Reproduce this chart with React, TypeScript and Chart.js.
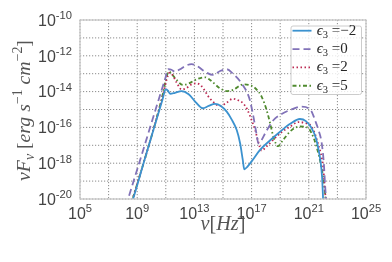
import { useEffect, useRef } from 'react';
import { Chart, registerables } from 'chart.js';

Chart.register(...registerables);

// log10(nu [Hz]) and log10(nu F_nu) for each epsilon_3 curve
const xEpsM2 = [8.5, 8.71, 9.5, 10.3, 10.75, 11.0, 11.15, 11.3, 11.6, 12.1, 12.6, 13.1, 13.58, 14.0, 14.44, 14.85, 15.26, 15.6, 15.96, 16.2, 16.38, 16.49, 16.7, 17.0, 17.59, 18.3, 18.99, 19.7, 20.38, 20.8, 21.2, 21.5, 21.67, 21.82, 21.93, 22.0, 22.05];
const yEpsM2 = [-20.5, -20, -17.85, -15.7, -14.5, -13.87, -13.95, -14.12, -14.08, -13.97, -14.15, -14.6, -14.93, -14.8, -14.69, -14.8, -15.12, -15.55, -16.15, -16.9, -17.8, -18.34, -18.2, -17.9, -17.26, -16.72, -16.24, -15.8, -15.53, -15.65, -16.05, -16.6, -17.2, -17.9, -18.8, -20, -20.8];

const xEps0 = [8.2, 8.36, 9.5, 10.5, 10.95, 11.17, 11.4, 11.64, 12.0, 12.4, 12.81, 13.2, 13.8, 14.32, 14.8, 15.26, 15.7, 16.3, 16.85, 17.15, 17.35, 17.47, 17.7, 18.0, 18.52, 19.1, 19.69, 20.5, 21.2, 21.43, 21.7, 21.9, 22.05, 22.13, 22.2, 22.25];
const yEps0 = [-20.4, -20, -17.05, -14.45, -13.3, -12.75, -12.78, -12.89, -12.75, -12.55, -12.47, -12.58, -12.92, -13.07, -12.85, -12.75, -13.0, -13.54, -14.4, -15.5, -16.4, -16.89, -16.7, -16.25, -15.6, -15.25, -15.03, -14.84, -15.12, -15.59, -16.2, -16.87, -18.0, -19.1, -20, -20.8];

const xEps2 = [8.5, 8.68, 9.5, 10.3, 10.8, 11.05, 11.25, 11.45, 11.76, 12.1, 12.4, 12.8, 13.16, 13.5, 14.1, 14.8, 15.2, 15.7, 16.1, 16.4, 16.7, 17.0, 17.25, 17.45, 17.7, 18.0, 18.99, 19.7, 20.3, 20.7, 21.2, 21.67, 22.0, 22.13, 22.2];
const yEps2 = [-20.5, -20, -17.85, -15.65, -14.2, -13.35, -12.95, -13.05, -13.5, -13.88, -13.82, -13.6, -13.54, -13.7, -14.4, -14.8, -14.65, -14.4, -14.5, -14.65, -15.0, -15.6, -16.15, -16.76, -17.3, -17.1, -16.33, -15.95, -15.7, -15.75, -15.96, -16.98, -18.2, -19.5, -20.2];

const xEps5 = [8.5, 8.68, 9.5, 10.3, 10.8, 11.0, 11.2, 11.45, 11.76, 12.2, 12.6, 13.2, 13.74, 14.1, 14.79, 15.3, 15.72, 16.4, 16.9, 17.24, 17.7, 18.05, 18.29, 18.55, 18.85, 19.2, 19.8, 20.4, 20.9, 21.2, 21.55, 21.9, 22.1, 22.2];
const yEps5 = [-20.5, -20, -17.85, -15.65, -14.1, -13.35, -12.88, -13.05, -13.35, -13.63, -13.55, -13.3, -13.2, -13.35, -13.82, -13.97, -13.9, -13.6, -13.65, -13.8, -14.28, -15.03, -15.75, -16.6, -17.05, -16.7, -16.15, -15.95, -16.0, -16.33, -17.1, -18.3, -19.4, -20.2];

const epsLabels = ['\u2212' + '2', '0', '2', '5'];
const xTickExps = [5, 9, 13, 17, 21, 25];
const yTickExps = [-10, -12, -14, -16, -18, -20];

type Run = { t: string; it?: boolean; s?: number; dy?: number };

const SANS = '"Liberation Sans", Arial, sans-serif';
const SERIF = '"Liberation Serif", "DejaVu Serif", serif';

function fontOf(r: Run, size: number, fam: string) {
  return `${r.it ? 'italic ' : ''}${(size * (r.s ?? 1)).toFixed(2)}px ${fam}`;
}
function measureRuns(ctx: CanvasRenderingContext2D, runs: Run[], size: number, fam: string) {
  let w = 0;
  for (const r of runs) {
    ctx.font = fontOf(r, size, fam);
    w += ctx.measureText(r.t).width;
  }
  return w;
}
function drawRuns(ctx: CanvasRenderingContext2D, runs: Run[], x: number, y: number, size: number, fam: string, align: 'left' | 'center' | 'right') {
  const w = measureRuns(ctx, runs, size, fam);
  let cx = align === 'left' ? x : align === 'center' ? x - w / 2 : x - w;
  ctx.textAlign = 'left';
  ctx.textBaseline = 'alphabetic';
  for (const r of runs) {
    ctx.font = fontOf(r, size, fam);
    ctx.fillText(r.t, cx, y + (r.dy ?? 0) * size);
    cx += ctx.measureText(r.t).width;
  }
}
function fitSize(ctx: CanvasRenderingContext2D, runs: Run[], fam: string, target: number) {
  const base = 16;
  return (base * target) / measureRuns(ctx, runs, base, fam);
}

const decor = {
  id: 'decor',
  beforeDatasetsDraw(chart: any) {
    const { ctx, chartArea: a, scales } = chart;
    ctx.save();
    ctx.fillStyle = '#ffffff';
    ctx.fillRect(a.left, a.top, a.right - a.left, a.bottom - a.top);
    ctx.strokeStyle = '#8c8c8c';
    ctx.lineWidth = 1;
    ctx.setLineDash([1.2, 1.8]);
    for (const t of scales.x.ticks) {
      const px = scales.x.getPixelForValue(t.value);
      ctx.beginPath();
      ctx.moveTo(px, a.top);
      ctx.lineTo(px, a.bottom);
      ctx.stroke();
    }
    for (const t of scales.y.ticks) {
      const py = scales.y.getPixelForValue(t.value);
      ctx.beginPath();
      ctx.moveTo(a.left, py);
      ctx.lineTo(a.right, py);
      ctx.stroke();
    }
    ctx.restore();
  },
  afterDatasetsDraw(chart: any) {
    const { ctx, chartArea: a, scales } = chart;
    ctx.save();
    // frame
    ctx.setLineDash([]);
    ctx.strokeStyle = '#c8c8c8';
    ctx.lineWidth = 1.3;
    ctx.strokeRect(a.left, a.top, a.right - a.left, a.bottom - a.top);

    // tick labels
    ctx.fillStyle = '#444444';
    for (const e of xTickExps) {
      const px = scales.x.getPixelForValue(e);
      drawRuns(ctx, [{ t: '10' }, { t: String(e), s: 0.7, dy: -0.4 }], px, a.bottom + 19.5, 16, SANS, 'center');
    }
    for (const e of yTickExps) {
      const py = scales.y.getPixelForValue(e);
      drawRuns(ctx, [{ t: '10' }, { t: String(e), s: 0.7, dy: -0.4 }], a.left - 8, py + 5.7, 16, SANS, 'right');
    }

    // axis titles
    ctx.fillStyle = '#555555';
    const xt: Run[] = [{ t: '\u03bd', it: true }, { t: '[' }, { t: 'Hz', it: true }, { t: ']' }];
    const xs = fitSize(ctx, xt, SERIF, 45);
    drawRuns(ctx, xt, (a.left + a.right) / 2, a.bottom + 31, xs, SERIF, 'center');

    const yt: Run[] = [
      { t: '\u03bd', it: true }, { t: 'F', it: true }, { t: '\u03bd', it: true, s: 0.7, dy: 0.22 },
      { t: ' [' }, { t: 'erg', it: true }, { t: ' ' }, { t: 's', it: true },
      { t: '\u22121', s: 0.7, dy: -0.42 }, { t: ' ' }, { t: 'cm', it: true },
      { t: '\u22122', s: 0.7, dy: -0.42 }, { t: ']' },
    ];
    const ys = fitSize(ctx, yt, SERIF, 141);
    ctx.save();
    ctx.translate(30, (a.top + a.bottom) / 2 + 1);
    ctx.rotate(-Math.PI / 2);
    drawRuns(ctx, yt, 0, 0, ys, SERIF, 'center');
    ctx.restore();

    // legend
    const lx = 291, ly = 26, lw = 70.5, lh = 68.5;
    ctx.beginPath();
    ctx.roundRect(lx, ly, lw, lh, 2);
    ctx.fillStyle = 'rgba(255,255,255,0.8)';
    ctx.fill();
    ctx.strokeStyle = '#cccccc';
    ctx.lineWidth = 1;
    ctx.stroke();
    chart.data.datasets.forEach((ds: any, i: number) => {
      const ry = 30.7 + i * 18.35;
      ctx.save();
      ctx.strokeStyle = ds.borderColor;
      ctx.lineWidth = ds.borderWidth;
      ctx.setLineDash(ds.borderDash || []);
      ctx.beginPath();
      ctx.moveTo(292.5, ry);
      ctx.lineTo(311.5, ry);
      ctx.stroke();
      ctx.restore();
      ctx.fillStyle = '#262626';
      drawRuns(ctx, [
        { t: '\u03f5', it: true }, { t: '3', s: 0.7, dy: 0.2 }, { t: ' =' + epsLabels[i] },
      ], 316.7, ry + 3.8, 15, SERIF, 'left');
    });
    ctx.restore();
  },
};

export default function App() {
  const ref = useRef<HTMLCanvasElement>(null);
  useEffect(() => {
    document.body.style.margin = '0';
    document.body.style.overflow = 'hidden';
    const canvas = ref.current!;
    const series = [
      { xs: xEpsM2, ys: yEpsM2, color: '#3b92cf', dash: [] as number[] },
      { xs: xEps0, ys: yEps0, color: '#8172b8', dash: [7, 4] },
      { xs: xEps2, ys: yEps2, color: '#bb2a52', dash: [1.5, 2.5] },
      { xs: xEps5, ys: yEps5, color: '#4f8a2e', dash: [4, 2.5, 1.5, 2.5] },
    ];
    const chart = new Chart(canvas, {
      type: 'line',
      data: {
        datasets: series.map((s, i) => ({
          label: epsLabels[i],
          data: s.xs.map((x, j) => ({ x, y: s.ys[j] })),
          borderColor: s.color,
          borderWidth: 1.8,
          borderDash: s.dash,
          pointRadius: 0,
          fill: false,
          cubicInterpolationMode: 'monotone',
          clip: 0,
        })),
      },
      options: {
        responsive: false,
        animation: false,
        devicePixelRatio: 1,
        layout: { padding: { left: 80, right: 26, top: 20, bottom: 63 } },
        plugins: { legend: { display: false }, tooltip: { enabled: false } },
        scales: {
          x: {
            type: 'linear', min: 5, max: 25,
            ticks: { stepSize: 2, display: false },
            grid: { display: false, drawTicks: false },
            border: { display: false },
          },
          y: {
            type: 'linear', min: -20, max: -10,
            ticks: { stepSize: 1, display: false },
            grid: { display: false, drawTicks: false },
            border: { display: false },
          },
        },
      } as any,
      plugins: [decor],
    } as any);
    return () => chart.destroy();
  }, []);
  return (
    <div style={{ width: 392, height: 262 }}>
      <canvas ref={ref} width={392} height={262} style={{ display: 'block', width: 392, height: 262 }} />
    </div>
  );
}
